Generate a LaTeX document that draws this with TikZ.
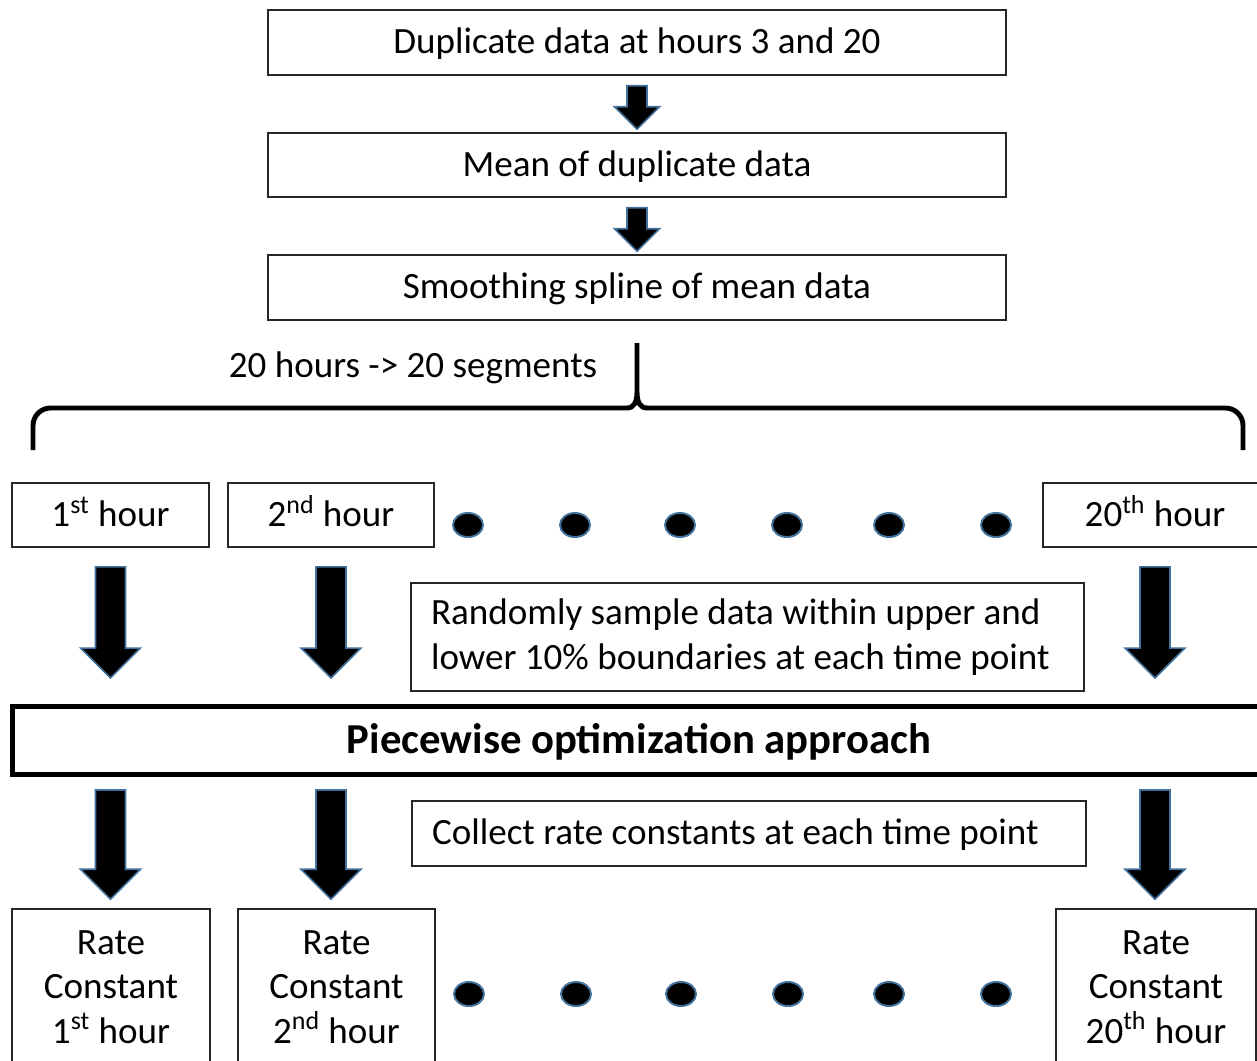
\documentclass[tikz,border=0pt]{standalone}
\usepackage{fontspec}
\setmainfont{Carlito}
\usepackage{xcolor}
\usetikzlibrary{positioning, calc, arrows.meta}

\definecolor{edgeblue}{HTML}{41719C}

% block arrow pointing down: top coordinate, tip coordinate, shaft half width, head half width
\newcommand{\blockarrow}[4]{%
  \filldraw[arrowstyle]
    ($(#1)+(-#3,0)$) -- ($(#1)+(#3,0)$) -- ($(#2)+(#3,-#4)$) -- ($(#2)+(#4,-#4)$)
    -- (#2) -- ($(#2)+(-#4,-#4)$) -- ($(#2)+(-#3,-#4)$) -- cycle;
}

\tikzset{
  box/.style={draw=black!85, line width=0.9pt, inner sep=0pt, align=center},
  oneline/.style={text height=17pt, text depth=4pt},
  notebox/.style={draw=black!85, line width=0.9pt, inner sep=0pt, align=flush left},
  arrowstyle/.style={fill=black, draw=edgeblue, line width=0.9pt, line join=miter},
  dotstyle/.style={fill=black, draw=edgeblue, line width=1.1pt},
}

\begin{document}
\begin{tikzpicture}[
  x=0.02cm, y=-0.02cm,
  font=\fontsize{21.1}{25.3}\selectfont,
]
\useasboundingbox (0,0) rectangle (1257,1061);
\clip (0,0) rectangle (1257,1061);

% ---- 1. top chain ----
\node[box, oneline, minimum width=14.76cm, minimum height=1.3cm] (dup)  at (637,42.5)  {Duplicate data at hours 3 and 20};
\node[box, oneline, minimum width=14.76cm, minimum height=1.28cm] (mean) at (637,165)  {Mean of duplicate data};
\node[box, oneline, minimum width=14.76cm, minimum height=1.3cm] (spline) at (637,287.5) {Smoothing spline of mean data};

\coordinate (a1top) at ($(dup.south)+(0,10)$);
\coordinate (a1tip) at ($(mean.north)+(0,-3)$);
\coordinate (a2top) at ($(mean.south)+(0,10)$);
\coordinate (a2tip) at ($(spline.north)+(0,-3)$);
\blockarrow{a1top}{a1tip}{10}{22.5}
\blockarrow{a2top}{a2tip}{10}{22.5}

% ---- 2. brace over the segments ----
\node[oneline] (seg) at (413,366) {20 hours -> 20 segments};
\coordinate (brL)   at (33,450);
\coordinate (brR)   at (1243,450);
\coordinate (brTop) at (637,343);
\draw[line width=2.8pt, rounded corners=10]
  (brL) -- (33,408) -- (627,408);
\draw[line width=2.8pt]
  (627,408) .. controls (634,408) and (637,402) .. (637,392) -- (brTop)
  (637,392) .. controls (637,402) and (640,408) .. (647,408);
\draw[line width=2.8pt, rounded corners=10]
  (647,408) -- (1243,408) -- (brR);

% ---- 3. hour boxes ----
\node[box, oneline, minimum width=3.94cm, minimum height=1.28cm] (h1)  at (110.5,515) {1\textsuperscript{st} hour};
\node[box, oneline, minimum width=4.12cm, minimum height=1.28cm] (h2)  at (331,515)   {2\textsuperscript{nd} hour};
\node[box, oneline, minimum width=4.48cm, minimum height=1.28cm] (h20) at (1155,515)  {20\textsuperscript{th} hour};
\foreach \dx in {468, 575, 680, 787, 889, 996}
  \filldraw[dotstyle] (\dx,525) ellipse (15 and 12);

\node[notebox, minimum width=13.46cm, minimum height=2.16cm, text width=12.66cm] (sample) at (747.5,637)
  {Randomly sample data within upper and\\ lower 10\% boundaries at each time point};

% ---- 4. optimization ----
\node[box, line width=2.8pt, draw=black, minimum width=25.08cm, minimum height=1.36cm,
      text height=20pt, text depth=4.7pt,
      font=\fontsize{24.3}{29}\selectfont\bfseries] (pw) at (639,740.5)
  {Piecewise optimization approach};

\node[notebox, oneline, minimum width=13.48cm, minimum height=1.3cm, text width=12.68cm] (collect) at (749,833.5)
  {Collect rate constants at each time point};

% ---- 5. rate constants ----
\node[box, minimum width=3.96cm, minimum height=3.12cm] (r1)  at (111,987)    {Rate\\ Constant\\ 1\textsuperscript{st} hour};
\node[box, minimum width=3.94cm, minimum height=3.12cm] (r2)  at (336.5,987)  {Rate\\ Constant\\ 2\textsuperscript{nd} hour};
\node[box, minimum width=4.0cm,  minimum height=3.12cm] (r20) at (1156,987)   {Rate\\ Constant\\ 20\textsuperscript{th} hour};
\foreach \dx in {469, 576, 681, 788, 889, 996}
  \filldraw[dotstyle] (\dx,994) ellipse (15 and 12);

% ---- 6. big arrows ----
\foreach \h in {h1, h2, h20} {
  \coordinate (\h top)  at ($(\h.south)+(0,19)$);
  \coordinate (\h tip)  at ($(\h.south |- pw.north)+(0,-26)$);
  \coordinate (\h top2) at ($(\h.south |- pw.south)+(0,13)$);
  \coordinate (\h tip2) at ($(\h.south |- r1.north)+(0,-9)$);
  \blockarrow{\h top}{\h tip}{15}{30}
  \blockarrow{\h top2}{\h tip2}{15}{30}
}

\end{tikzpicture}
\end{document}
